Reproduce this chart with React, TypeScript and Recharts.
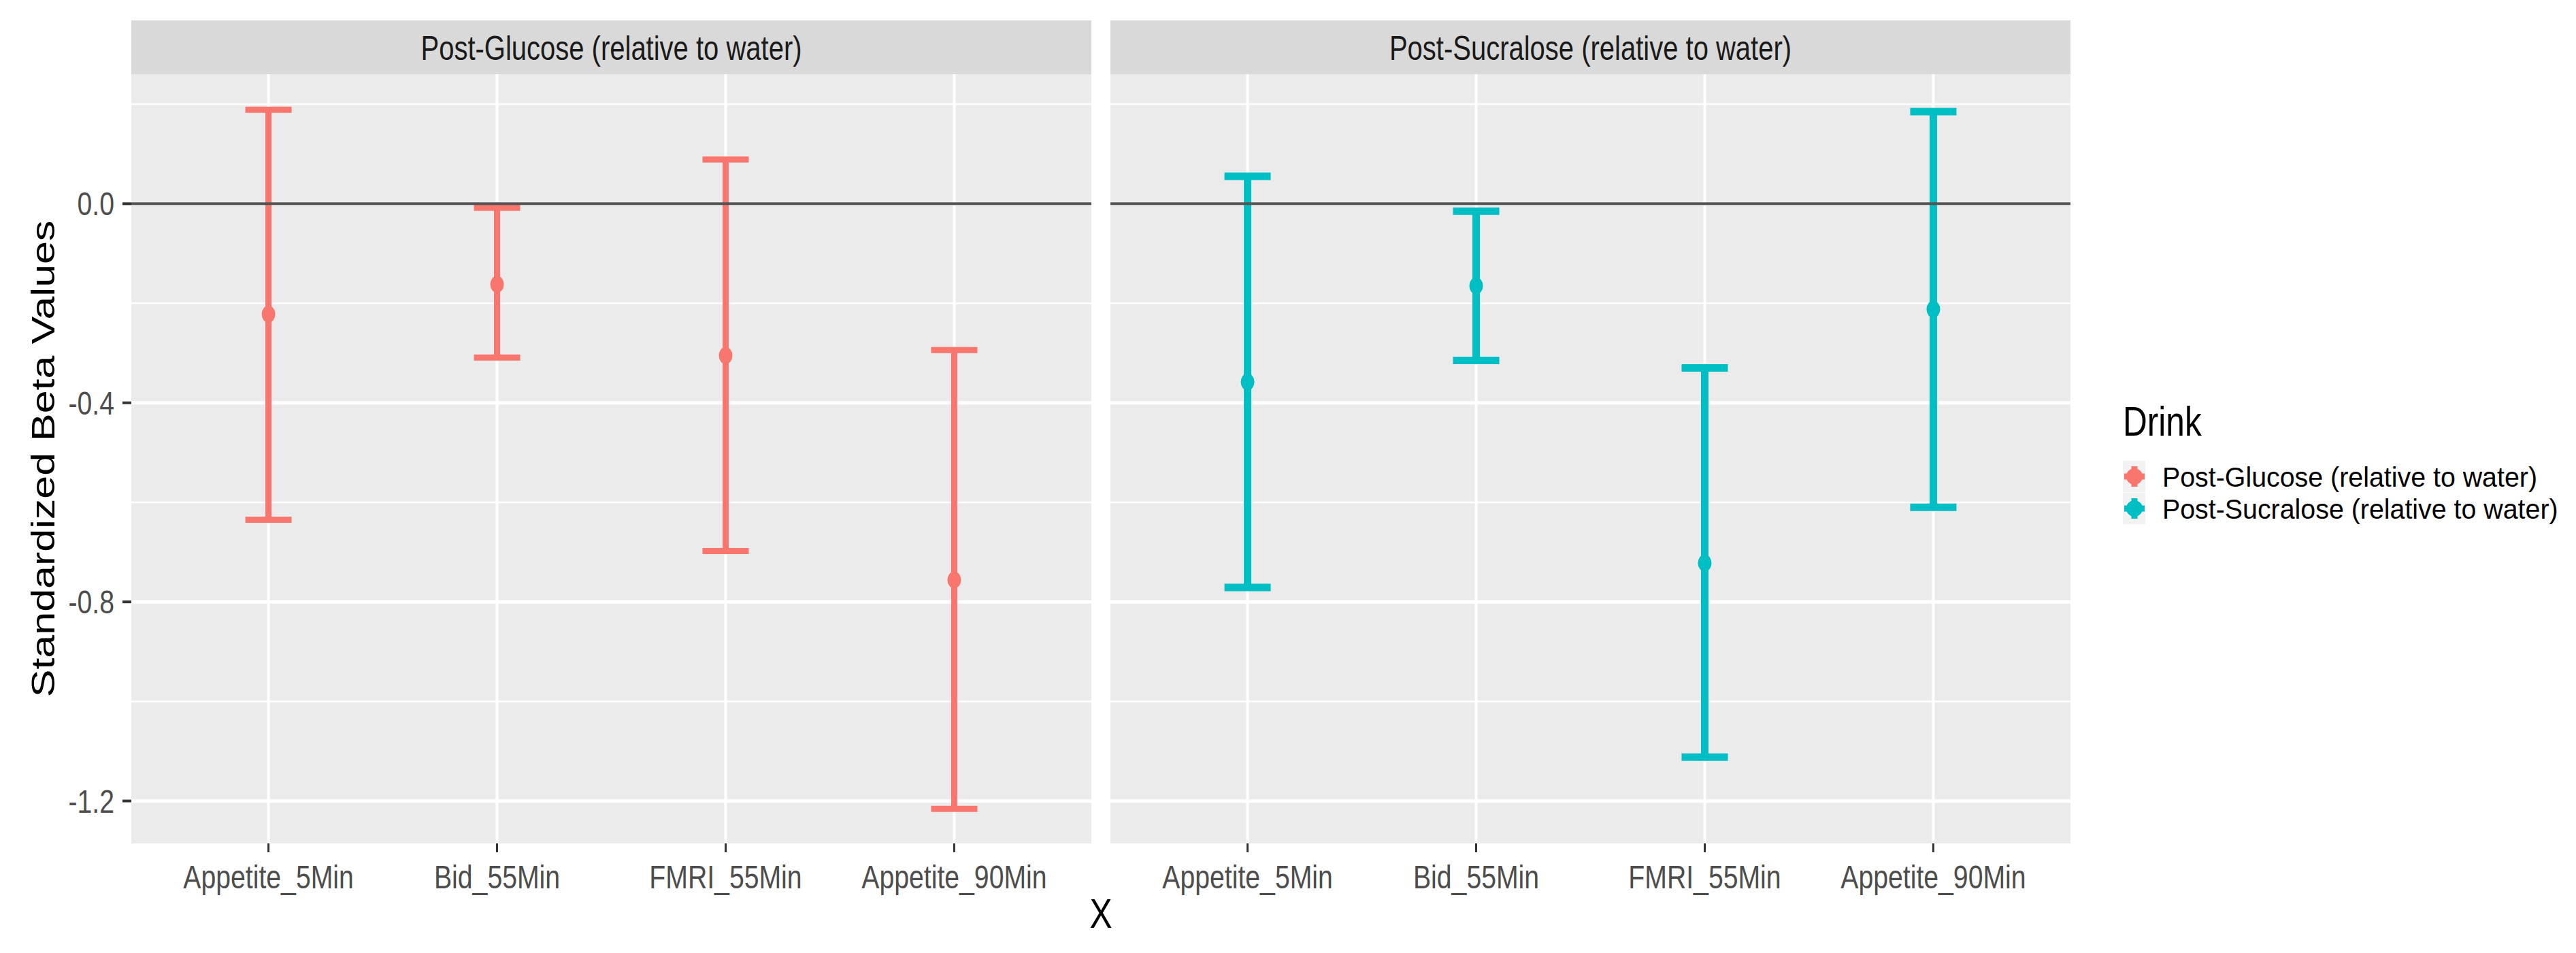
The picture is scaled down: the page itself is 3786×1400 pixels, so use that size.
import React from "react";
import {
  ComposedChart,
  Scatter,
  XAxis,
  YAxis,
  CartesianGrid,
  ErrorBar,
  ReferenceLine,
} from "recharts";

// ---------- data ----------
const categories = ["Appetite_5Min", "Bid_55Min", "FMRI_55Min", "Appetite_90Min"];
const categoryPositions = [1, 2, 3, 4];

const glucoseEst = [-0.222, -0.162, -0.305, -0.756];
const glucoseLow = [-0.635, -0.309, -0.698, -1.216];
const glucoseHigh = [0.189, -0.008, 0.089, -0.294];

const sucraloseEst = [-0.358, -0.165, -0.722, -0.212];
const sucraloseLow = [-0.771, -0.315, -1.112, -0.61];
const sucraloseHigh = [0.055, -0.015, -0.33, 0.185];

const seriesNames = ["Post-Glucose (relative to water)", "Post-Sucralose (relative to water)"];
const seriesColors = ["#F8766D", "#00BFC4"];

const yTicks = [-1.2, -0.8, -0.4, 0];
const yMinor = [-1.0, -0.6, -0.2, 0.2];
const yDomain = [-1.2853, 0.2603];
const xDomain = [0.4, 4.6];

const legendTitle = "Drink";
const yTitle = "Standardized Beta Values";
const xTitle = "X";

// ---------- layout ----------
const W = 3786;
const H = 1400;
const FONT = "'Liberation Sans', Arial, Helvetica, sans-serif";
const SX = 0.8;
const PLOT_TOP = 109;
const PLOT_BOTTOM = 1239;
const P1_LEFT = 193;
const P1_RIGHT = 1604;
const P2_LEFT = 1632;
const P2_RIGHT = 3043;

function buildRows(est: number[], low: number[], high: number[]) {
  return categories.map((c, i) => ({
    x: categoryPositions[i],
    cat: c,
    est: est[i],
    err: [est[i] - low[i], high[i] - est[i]],
  }));
}

const glucoseRows = buildRows(glucoseEst, glucoseLow, glucoseHigh);
const sucraloseRows = buildRows(sucraloseEst, sucraloseLow, sucraloseHigh);

const XTick = (props: any) => {
  const { x, y, payload } = props;
  const idx = categoryPositions.indexOf(Number(payload.value));
  const label = idx >= 0 ? categories[idx] : "";
  return (
    <text
      transform={`translate(${x},${y + 51}) scale(${SX},1)`}
      textAnchor="middle"
      fontFamily={FONT}
      fontSize={49}
      fill="#4D4D4D"
    >
      {label}
    </text>
  );
};

const YTick = (props: any) => {
  const { x, y, payload } = props;
  return (
    <text
      transform={`translate(${x - 10},${y + 17}) scale(${SX},1)`}
      textAnchor="end"
      fontFamily={FONT}
      fontSize={49}
      fill="#4D4D4D"
    >
      {Number(payload.value).toFixed(1)}
    </text>
  );
};

function Panel(props: {
  rows: any[];
  color: string;
  lineWidth: number;
  left: number;
  right: number;
  showY: boolean;
}) {
  const { rows, color, lineWidth, left, right, showY } = props;
  const yAxisWidth = showY ? 60 : 0;
  return (
    <div style={{ position: "absolute", left: 0, top: 0 }}>
      <ComposedChart
        width={W}
        height={H}
        data={rows}
        margin={{ top: PLOT_TOP, right: W - right, bottom: H - PLOT_BOTTOM - 60, left: left - yAxisWidth }}
      >
        <CartesianGrid
          fill="#EBEBEB"
          stroke="#FFFFFF"
          strokeWidth={2.5}
          vertical={false}
          horizontalValues={yMinor}
        />
        <CartesianGrid stroke="#FFFFFF" strokeWidth={5} vertical={false} horizontalValues={yTicks} />
        <CartesianGrid stroke="#FFFFFF" strokeWidth={4} horizontal={false} verticalValues={categoryPositions} />
        <XAxis
          type="number"
          dataKey="x"
          domain={xDomain}
          ticks={categoryPositions}
          allowDataOverflow
          interval={0}
          axisLine={false}
          tickSize={13}
          tickLine={{ stroke: "#333333", strokeWidth: 3 }}
          tick={<XTick />}
          height={60}
        />
        <YAxis
          type="number"
          dataKey="est"
          domain={yDomain}
          ticks={yTicks}
          allowDataOverflow
          interval={0}
          axisLine={false}
          tickSize={13}
          tickLine={{ stroke: "#333333", strokeWidth: 4 }}
          tick={<YTick />}
          width={yAxisWidth}
          hide={!showY}
        />
        <Scatter
          data={rows}
          dataKey="est"
          fill={color}
          isAnimationActive={false}
          shape={(p: any) => <ellipse cx={p.cx} cy={p.cy} rx={10} ry={12.5} fill={color} />}
        >
          <ErrorBar
            dataKey="err"
            direction="y"
            width={34}
            stroke={color}
            strokeWidth={lineWidth}
            isAnimationActive={false}
          />
        </Scatter>
        <ReferenceLine y={0} stroke="#555555" strokeWidth={4} />
      </ComposedChart>
    </div>
  );
}

function Overlay() {
  const strips = [
    { l: P1_LEFT, r: P1_RIGHT, label: seriesNames[0] },
    { l: P2_LEFT, r: P2_RIGHT, label: seriesNames[1] },
  ];
  const legendRows = [700, 747];
  return (
    <svg
      width={W}
      height={H}
      style={{ position: "absolute", left: 0, top: 0, pointerEvents: "none" }}
    >
      {strips.map((s, i) => (
        <g key={i}>
          <rect x={s.l} y={30} width={s.r - s.l} height={PLOT_TOP - 30} fill="#D9D9D9" />
          <text
            transform={`translate(${(s.l + s.r) / 2},88) scale(${SX},1)`}
            textAnchor="middle"
            fontFamily={FONT}
            fontSize={50}
            fill="#1A1A1A"
          >
            {s.label}
          </text>
        </g>
      ))}
      <text
        transform={`translate(80,${(PLOT_TOP + PLOT_BOTTOM) / 2}) scale(${SX},1) rotate(-90)`}
        textAnchor="middle"
        fontFamily={FONT}
        fontSize={61}
        fill="#000000"
      >
        {yTitle}
      </text>
      <text
        transform={`translate(${(P1_LEFT + P2_RIGHT) / 2},1363) scale(${SX},1)`}
        textAnchor="middle"
        fontFamily={FONT}
        fontSize={62}
        fill="#000000"
      >
        {xTitle}
      </text>
      <text
        transform={`translate(3120,640) scale(${SX},1)`}
        fontFamily={FONT}
        fontSize={62}
        fill="#000000"
      >
        {legendTitle}
      </text>
      {seriesNames.map((n, i) => {
        const cy = legendRows[i];
        const c = seriesColors[i];
        return (
          <g key={n}>
            <rect x={3120} y={cy - 23} width={33} height={46} fill="#F2F2F2" />
            <line x1={3137} y1={cy - 15} x2={3137} y2={cy + 15} stroke={c} strokeWidth={9} />
            <line x1={3122} y1={cy} x2={3152} y2={cy} stroke={c} strokeWidth={9} />
            <circle cx={3137} cy={cy} r={12} fill={c} />
            <text
              transform={`translate(3178,${cy + 15}) scale(0.96,1)`}
              fontFamily={FONT}
              fontSize={41}
              fill="#000000"
            >
              {n}
            </text>
          </g>
        );
      })}
    </svg>
  );
}

export default function App() {
  return (
    <div style={{ position: "absolute", left: 0, top: 0, width: W, height: H, background: "#FFFFFF" }}>
      <Panel rows={glucoseRows} color={seriesColors[0]} lineWidth={9} left={P1_LEFT} right={P1_RIGHT} showY={true} />
      <Panel rows={sucraloseRows} color={seriesColors[1]} lineWidth={11} left={P2_LEFT} right={P2_RIGHT} showY={false} />
      <Overlay />
    </div>
  );
}
